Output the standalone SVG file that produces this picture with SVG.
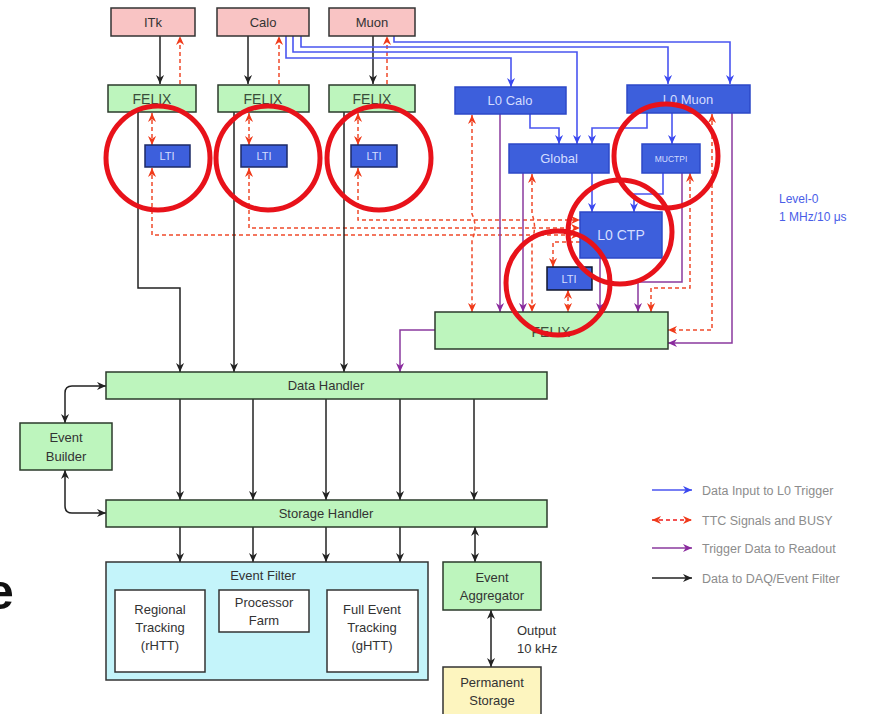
<svg xmlns="http://www.w3.org/2000/svg" width="877" height="714" viewBox="0 0 877 714">
<style>
text{font-family:"Liberation Sans",Arial,sans-serif;}
.pink{fill:#f9c4c4;stroke:#333;stroke-width:1.5}
.green{fill:#bdf5bd;stroke:#2b3a2b;stroke-width:1.5}
.blue{fill:#3d5fdc;stroke:#2c48c8;stroke-width:1.5}
.lti{fill:#3d5fdc;stroke:#1c2a66;stroke-width:1.5}
.white{fill:#fff;stroke:#333;stroke-width:1.5}
.t{font-size:13px;fill:#333;text-anchor:middle}
.tg{font-size:14px;fill:#3a4d3a;text-anchor:middle}
.tb{font-size:13px;fill:#d4ddff;text-anchor:middle}
.ts{font-size:11px;fill:#d4ddff;text-anchor:middle}
.k{fill:none;stroke:#222;stroke-width:1.5}
.bl{fill:none;stroke:#4a55f0;stroke-width:1.6}
.rd{fill:none;stroke:#f04a2a;stroke-width:1.5;stroke-dasharray:4 3}
.pu{fill:none;stroke:#8a3a9e;stroke-width:1.5}
.circ{fill:none;stroke:#e8121a;stroke-width:5}
.leg{font-size:12.5px;fill:#8c8c8c}
</style>
<defs>
<marker id="mk" viewBox="0 0 10 10" refX="10" refY="5" markerWidth="9" markerHeight="9" markerUnits="userSpaceOnUse" orient="auto-start-reverse"><path d="M0,0.5 L10,5 L0,9.5 L3,5z" fill="#222"/></marker>
<marker id="mb" viewBox="0 0 10 10" refX="10" refY="5" markerWidth="9" markerHeight="9" markerUnits="userSpaceOnUse" orient="auto-start-reverse"><path d="M0,0.5 L10,5 L0,9.5 L3,5z" fill="#3a48f0"/></marker>
<marker id="mr" viewBox="0 0 10 10" refX="10" refY="5" markerWidth="9" markerHeight="9" markerUnits="userSpaceOnUse" orient="auto-start-reverse"><path d="M0,0.5 L10,5 L0,9.5 L3,5z" fill="#f03a1a"/></marker>
<marker id="mp" viewBox="0 0 10 10" refX="10" refY="5" markerWidth="9" markerHeight="9" markerUnits="userSpaceOnUse" orient="auto-start-reverse"><path d="M0,0.5 L10,5 L0,9.5 L3,5z" fill="#8a2a9e"/></marker>
</defs>
<rect width="877" height="714" fill="#fff"/>

<text x="-14" y="609" style="font-size:50px;font-weight:bold;fill:#111">e</text>

<g id="connectors">
<path class="k" d="M160,36 V84" marker-end="url(#mk)"/>
<path class="k" d="M248,36 V84" marker-end="url(#mk)"/>
<path class="k" d="M373,36 V84" marker-end="url(#mk)"/>
<path class="rd" d="M180,84 V36" marker-end="url(#mr)"/>
<path class="rd" d="M279,84 V36" marker-end="url(#mr)"/>
<path class="rd" d="M387,84 V36" marker-end="url(#mr)"/>
<path class="bl" d="M394,36 V42 H730 V84" marker-end="url(#mb)"/>
<path class="bl" d="M301,36 V47 H668 V84" marker-end="url(#mb)"/>
<path class="bl" d="M293,36 V52 H577 V144" marker-end="url(#mb)"/>
<path class="bl" d="M286,36 V58 H511 V87" marker-end="url(#mb)"/>
<path class="bl" d="M530,114 V128 H559 V144" marker-end="url(#mb)"/>
<path class="bl" d="M647,113 V128 H592 V144" marker-end="url(#mb)"/>
<path class="bl" d="M672,113 V144" marker-end="url(#mb)"/>
<path class="bl" d="M592,173 V212" marker-end="url(#mb)"/>
<path class="bl" d="M663,173 V194 H634 V212" marker-end="url(#mb)"/>
<path class="rd" d="M152,113 V145" marker-start="url(#mr)" marker-end="url(#mr)"/>
<path class="rd" d="M249,113 V145" marker-start="url(#mr)" marker-end="url(#mr)"/>
<path class="rd" d="M358,113 V145" marker-start="url(#mr)" marker-end="url(#mr)"/>
<path class="rd" d="M152,168 V235 H580" marker-start="url(#mr)" marker-end="url(#mr)"/>
<path class="rd" d="M249,168 V228 H580" marker-start="url(#mr)" marker-end="url(#mr)"/>
<path class="rd" d="M358,168 V220 H580" marker-start="url(#mr)" marker-end="url(#mr)"/>
<path class="rd" d="M580,242 H553 V267" marker-end="url(#mr)"/>
<path class="rd" d="M472,115 V214 Q478,227 472,240 V312" marker-start="url(#mr)" marker-end="url(#mr)"/>
<path class="rd" d="M532,174 V214 Q537,227 532,240 V312" marker-start="url(#mr)" marker-end="url(#mr)"/>
<path class="rd" d="M568,290 V312" marker-start="url(#mr)" marker-end="url(#mr)"/>
<path class="rd" d="M690,173 V288 H651 V312" marker-start="url(#mr)" marker-end="url(#mr)"/>
<path class="rd" d="M712,114 V330 H668" marker-start="url(#mr)" marker-end="url(#mr)"/>
<path class="pu" d="M500,114 V312" marker-end="url(#mp)"/>
<path class="pu" d="M523,173 V312" marker-end="url(#mp)"/>
<path class="pu" d="M600,258 V312" marker-end="url(#mp)"/>
<path class="pu" d="M682,173 V282 H638 V312" marker-end="url(#mp)"/>
<path class="pu" d="M732,113 V343 H668" marker-end="url(#mp)"/>
<path class="pu" d="M435,330 H400 V372" marker-end="url(#mp)"/>
<path class="k" d="M138,112 V288 H180 V372" marker-end="url(#mk)"/>
<path class="k" d="M234,112 V372" marker-end="url(#mk)"/>
<path class="k" d="M344,112 V372" marker-end="url(#mk)"/>
<path class="k" d="M180,399 V500" marker-end="url(#mk)"/>
<path class="k" d="M253,399 V500" marker-end="url(#mk)"/>
<path class="k" d="M326,399 V500" marker-end="url(#mk)"/>
<path class="k" d="M400,399 V500" marker-end="url(#mk)"/>
<path class="k" d="M474,399 V500" marker-end="url(#mk)"/>
<path class="k" d="M65,423 V393 Q65,386 72,386 H106" marker-start="url(#mk)" marker-end="url(#mk)"/>
<path class="k" d="M65,470 V506 Q65,513 72,513 H106" marker-start="url(#mk)" marker-end="url(#mk)"/>
<path class="k" d="M180,527 V562" marker-end="url(#mk)"/>
<path class="k" d="M253,527 V562" marker-end="url(#mk)"/>
<path class="k" d="M326,527 V562" marker-end="url(#mk)"/>
<path class="k" d="M400,527 V562" marker-end="url(#mk)"/>
<path class="k" d="M475,527 V562" marker-start="url(#mk)" marker-end="url(#mk)"/>
<path class="k" d="M491,610 V667" marker-start="url(#mk)" marker-end="url(#mk)"/>
<path class="k" d="M205,656 H240 Q248,656 248,648 V632" marker-start="url(#mk)" marker-end="url(#mk)"/>
<path class="k" d="M280,632 V648 Q280,656 288,656 H327" marker-start="url(#mk)" marker-end="url(#mk)"/>
</g>

<g id="itk"><rect class="pink" x="111" y="8" width="84" height="28"/><text class="t" x="153" y="27">ITk</text></g>
<g id="calo"><rect class="pink" x="217" y="8" width="92" height="28"/><text class="t" x="263" y="27">Calo</text></g>
<g id="muon"><rect class="pink" x="329" y="8" width="86" height="28"/><text class="t" x="372" y="27">Muon</text></g>

<g id="felix1"><rect class="green" x="108" y="85" width="88" height="27"/><text class="tg" x="152" y="104">FELIX</text></g>
<g id="felix2"><rect class="green" x="218" y="85" width="91" height="27"/><text class="tg" x="263" y="104">FELIX</text></g>
<g id="felix3"><rect class="green" x="329" y="85" width="86" height="27"/><text class="tg" x="372" y="104">FELIX</text></g>

<g id="lti1"><rect class="lti" x="145" y="145" width="45" height="22"/><text class="ts" x="167" y="160">LTI</text></g>
<g id="lti2"><rect class="lti" x="241" y="145" width="46" height="22"/><text class="ts" x="264" y="160">LTI</text></g>
<g id="lti3"><rect class="lti" x="351" y="145" width="46" height="22"/><text class="ts" x="374" y="160">LTI</text></g>

<g id="l0calo"><rect class="blue" x="455" y="87" width="111" height="27"/><text class="tb" x="510" y="105">L0 Calo</text></g>
<g id="l0muon"><rect class="blue" x="627" y="85" width="123" height="28"/><text class="tb" x="688" y="104">L0 Muon</text></g>
<g id="global"><rect class="blue" x="509" y="144" width="100" height="29"/><text class="tb" x="559" y="163">Global</text></g>
<g id="muctpi"><rect class="blue" x="642" y="144" width="58" height="29"/><text class="tb" x="671" y="162" style="font-size:8.5px">MUCTPI</text></g>
<g id="l0ctp"><rect class="blue" x="580" y="212" width="82" height="46"/><text class="tb" x="621" y="240" style="font-size:14px">L0 CTP</text></g>
<g id="lti4"><rect class="lti" x="547" y="267" width="45" height="23" style="stroke:#10162e"/><text class="ts" x="569" y="283">LTI</text></g>
<g id="felix4"><rect class="green" x="435" y="312" width="233" height="37"/><text class="tg" x="551" y="337">FELIX</text></g>

<g id="datahandler"><rect class="green" x="106" y="372" width="441" height="27"/><text class="t" x="326" y="390">Data Handler</text></g>
<g id="eventbuilder"><rect class="green" x="20" y="423" width="92" height="47"/><text class="t" x="66" y="442">Event</text><text class="t" x="66" y="461">Builder</text></g>
<g id="storagehandler"><rect class="green" x="106" y="500" width="441" height="27"/><text class="t" x="326" y="518">Storage Handler</text></g>

<g id="eventfilter"><rect x="106" y="562" width="322" height="118" style="fill:#c4f4fa;stroke:#333;stroke-width:1.5"/><text class="t" x="263" y="580">Event Filter</text></g>
<g id="regional"><rect class="white" x="115" y="590" width="90" height="82"/><text class="t" x="160" y="614">Regional</text><text class="t" x="160" y="632">Tracking</text><text class="t" x="160" y="650">(rHTT)</text></g>
<g id="processor"><rect class="white" x="219" y="590" width="90" height="42"/><text class="t" x="264" y="607">Processor</text><text class="t" x="264" y="625">Farm</text></g>
<g id="fullevent"><rect class="white" x="327" y="590" width="91" height="82"/><text class="t" x="372" y="614">Full Event</text><text class="t" x="372" y="632">Tracking</text><text class="t" x="372" y="650">(gHTT)</text></g>

<g id="aggregator"><rect class="green" x="443" y="562" width="98" height="48"/><text class="t" x="492" y="582">Event</text><text class="t" x="492" y="600">Aggregator</text></g>
<g id="permanent"><rect x="443" y="667" width="98" height="50" style="fill:#fdf5bf;stroke:#333;stroke-width:1.5"/><text class="t" x="492" y="687">Permanent</text><text class="t" x="492" y="705">Storage</text></g>
<text x="517" y="635" style="font-size:13px;fill:#333">Output</text>
<text x="517" y="653" style="font-size:13px;fill:#333">10 kHz</text>

<text x="779" y="203" style="font-size:12px;fill:#4a5ee8">Level-0</text>
<text x="779" y="221" style="font-size:12px;fill:#4a5ee8">1 MHz/10 μs</text>

<g id="legend">
<path class="bl" d="M652,490 H692" marker-end="url(#mb)"/>
<text class="leg" x="702" y="495">Data Input to L0 Trigger</text>
<path class="rd" d="M652,520 H692" style="stroke:#f01a1a" marker-start="url(#mr)" marker-end="url(#mr)"/>
<text class="leg" x="702" y="525">TTC Signals and BUSY</text>
<path class="pu" d="M652,548 H692" marker-end="url(#mp)"/>
<text class="leg" x="702" y="553">Trigger Data to Readout</text>
<path class="k" d="M652,578 H692" marker-end="url(#mk)"/>
<text class="leg" x="702" y="583">Data to DAQ/Event Filter</text>
</g>

<g id="highlights">
<circle class="circ" cx="158" cy="158" r="52"/>
<circle class="circ" cx="268" cy="158" r="52"/>
<circle class="circ" cx="379" cy="158" r="52"/>
<circle class="circ" cx="666" cy="156" r="52"/>
<circle class="circ" cx="620" cy="232" r="52"/>
<circle class="circ" cx="558" cy="283" r="52"/>
</g>
</svg>
